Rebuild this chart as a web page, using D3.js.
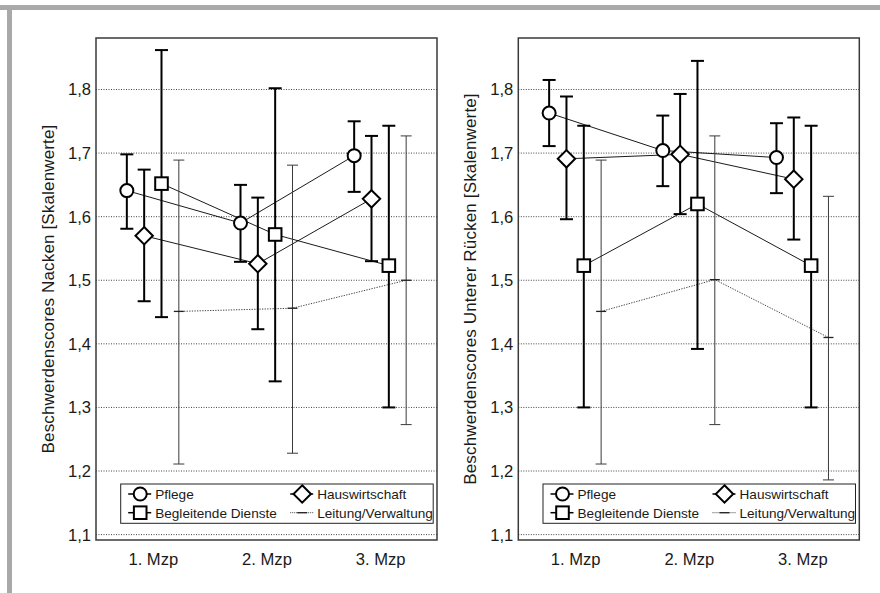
<!DOCTYPE html>
<html><head><meta charset="utf-8">
<script src="https://cdn.jsdelivr.net/npm/d3@7/dist/d3.min.js"></script>
<style>
html,body{margin:0;padding:0;background:#fff;}
svg{display:block;font-family:"Liberation Sans",Arial,sans-serif;}
</style></head>
<body>
<svg id="chart" width="880" height="593"></svg>
<script>
// ---- data ----
const categories = ["1. Mzp", "2. Mzp", "3. Mzp"];
const seriesNames = ["Pflege", "Hauswirtschaft", "Begleitende Dienste", "Leitung/Verwaltung"];
const yTicks = [1.1, 1.2, 1.3, 1.4, 1.5, 1.6, 1.7, 1.8];

// Panel 1: Nacken
const nackenPflegeMean = [1.641, 1.590, 1.696];
const nackenPflegeLo   = [1.581, 1.529, 1.639];
const nackenPflegeHi   = [1.698, 1.650, 1.750];
const nackenHauswMean  = [1.570, 1.526, 1.628];
const nackenHauswLo    = [1.467, 1.423, 1.530];
const nackenHauswHi    = [1.674, 1.630, 1.727];
const nackenBeglMean   = [1.652, 1.572, 1.523];
const nackenBeglLo     = [1.442, 1.341, 1.300];
const nackenBeglHi     = [1.862, 1.802, 1.743];
const nackenLeitMean   = [1.451, 1.456, 1.500];
const nackenLeitLo     = [1.211, 1.228, 1.273];
const nackenLeitHi     = [1.689, 1.681, 1.727];

// Panel 2: Unterer Rücken
const rueckenPflegeMean = [1.763, 1.704, 1.693];
const rueckenPflegeLo   = [1.711, 1.648, 1.637];
const rueckenPflegeHi   = [1.815, 1.759, 1.747];
const rueckenHauswMean  = [1.691, 1.698, 1.659];
const rueckenHauswLo    = [1.596, 1.604, 1.564];
const rueckenHauswHi    = [1.789, 1.793, 1.756];
const rueckenBeglMean   = [1.523, 1.620, 1.523];
const rueckenBeglLo     = [1.300, 1.392, 1.300];
const rueckenBeglHi     = [1.743, 1.845, 1.743];
const rueckenLeitMean   = [1.451, 1.501, 1.410];
const rueckenLeitLo     = [1.211, 1.273, 1.186];
const rueckenLeitHi     = [1.689, 1.727, 1.632];

const panels = [
  { left: 96, label: "Beschwerdenscores Nacken [Skalenwerte]",
    series: [
      {name: seriesNames[0], mean: nackenPflegeMean, lo: nackenPflegeLo, hi: nackenPflegeHi},
      {name: seriesNames[1], mean: nackenHauswMean, lo: nackenHauswLo, hi: nackenHauswHi},
      {name: seriesNames[2], mean: nackenBeglMean, lo: nackenBeglLo, hi: nackenBeglHi},
      {name: seriesNames[3], mean: nackenLeitMean, lo: nackenLeitLo, hi: nackenLeitHi}
    ]},
  { left: 518.3, label: "Beschwerdenscores Unterer Rücken [Skalenwerte]",
    series: [
      {name: seriesNames[0], mean: rueckenPflegeMean, lo: rueckenPflegeLo, hi: rueckenPflegeHi},
      {name: seriesNames[1], mean: rueckenHauswMean, lo: rueckenHauswLo, hi: rueckenHauswHi},
      {name: seriesNames[2], mean: rueckenBeglMean, lo: rueckenBeglLo, hi: rueckenBeglHi},
      {name: seriesNames[3], mean: rueckenLeitMean, lo: rueckenLeitLo, hi: rueckenLeitHi}
    ]}
];

// ---- drawing ----
const svg = d3.select("#chart");
// outer gray frame
svg.append("rect").attr("x", 0).attr("y", 5).attr("width", 880).attr("height", 5).attr("fill", "#a9a9a9");
svg.append("rect").attr("x", 7).attr("y", 5).attr("width", 5).attr("height", 588).attr("fill", "#a9a9a9");

const plotTop = 38, plotBottom = 540, pw = 341;
const y = d3.scaleLinear().domain([1.0915, 1.881]).range([plotBottom, plotTop]);

function drawMarker(g, type, cx, cy) {
  if (type === 0) {
    g.append("circle").attr("cx", cx).attr("cy", cy).attr("r", 6.5)
      .attr("fill", "#fff").attr("stroke", "#000").attr("stroke-width", 2);
  } else if (type === 1) {
    const s = 8.7;
    g.append("path").attr("d", `M${cx},${cy - s}L${cx + s},${cy}L${cx},${cy + s}L${cx - s},${cy}Z`)
      .attr("fill", "#fff").attr("stroke", "#000").attr("stroke-width", 2);
  } else if (type === 2) {
    const s = 6.3;
    g.append("rect").attr("x", cx - s).attr("y", cy - s).attr("width", 2 * s).attr("height", 2 * s)
      .attr("fill", "#fff").attr("stroke", "#000").attr("stroke-width", 2);
  } else {
    g.append("line").attr("x1", cx - 5).attr("x2", cx + 5).attr("y1", cy).attr("y2", cy)
      .attr("stroke", "#222").attr("stroke-width", 1.3);
  }
}

panels.forEach(p => {
  const g = svg.append("g");
  const x = d3.scaleBand().domain(categories).range([p.left, p.left + pw]);
  const off = d3.scalePoint().domain(seriesNames).range([-26, 26]);
  const xp = (cat, s) => x(cat) + x.bandwidth() / 2 + off(s);

  // grid
  g.selectAll(".grid").data(yTicks).enter().append("line")
    .attr("x1", p.left).attr("x2", p.left + pw)
    .attr("y1", d => y(d)).attr("y2", d => y(d))
    .attr("stroke", "#444").attr("stroke-width", 1).attr("stroke-dasharray", "1,1.5");

  // y tick labels
  g.selectAll(".yt").data(yTicks).enter().append("text")
    .attr("x", p.left - 5).attr("y", d => y(d)).attr("dy", "0.36em")
    .attr("text-anchor", "end").attr("font-size", 16.6).attr("fill", "#1a1a1a")
    .text(d => d3.format(".1f")(d).replace(".", ","));

  // x labels
  g.selectAll(".xt").data(categories).enter().append("text")
    .attr("x", d => x(d) + x.bandwidth() / 2 + 0.5).attr("y", 564.5)
    .attr("text-anchor", "middle").attr("font-size", 16.6).attr("fill", "#1a1a1a")
    .text(d => d);

  // y axis label
  g.append("text")
    .attr("transform", `translate(${p.left - 42},${(plotTop + plotBottom) / 2}) rotate(-90)`)
    .attr("text-anchor", "middle").attr("font-size", 17).attr("letter-spacing", 0.15).attr("fill", "#1a1a1a")
    .text(p.label);

  // connecting lines
  p.series.forEach((s, si) => {
    const line = d3.line().x((d, i) => xp(categories[i], s.name)).y(d => y(d));
    g.append("path").attr("d", line(s.mean)).attr("fill", "none")
      .attr("stroke", si === 3 ? "#444" : "#000")
      .attr("stroke-width", si === 3 ? 1 : 0.9)
      .attr("stroke-dasharray", si === 3 ? "1.3,1.3" : null);
  });

  // error bars
  p.series.forEach((s, si) => {
    const thick = si < 3;
    const cw = thick ? 6.5 : 5.5;
    const col = thick ? "#000" : "#3a3a3a";
    const sw = thick ? 2 : 1;
    s.mean.forEach((m, i) => {
      const cx = xp(categories[i], s.name);
      g.append("line").attr("x1", cx).attr("x2", cx).attr("y1", y(s.lo[i])).attr("y2", y(s.hi[i]))
        .attr("stroke", col).attr("stroke-width", sw);
      [s.lo[i], s.hi[i]].forEach(v => {
        g.append("line").attr("x1", cx - cw).attr("x2", cx + cw).attr("y1", y(v)).attr("y2", y(v))
          .attr("stroke", col).attr("stroke-width", sw);
      });
    });
  });

  // markers
  p.series.forEach((s, si) => {
    s.mean.forEach((m, i) => drawMarker(g, si, xp(categories[i], s.name), y(m)));
  });

  // frame
  g.append("rect").attr("x", p.left).attr("y", plotTop).attr("width", pw).attr("height", plotBottom - plotTop)
    .attr("fill", "none").attr("stroke", "#3a3a3a").attr("stroke-width", 1.5);

  // legend
  const lx = p.left + 24.7, ly = 484;
  const lg = g.append("g");
  lg.append("rect").attr("x", lx).attr("y", ly).attr("width", 312.5).attr("height", 39.3)
    .attr("fill", "#fff").attr("stroke", "#222").attr("stroke-width", 1);
  const cols = [lx + 19.5, lx + 181.5];
  const rows = [ly + 10, ly + 28.7];
  const pos = [[0, 0], [1, 0], [0, 1], [1, 1]];
  seriesNames.forEach((name, si) => {
    const cx = cols[pos[si][0]], cy = rows[pos[si][1]];
    lg.append("line").attr("x1", cx - 12).attr("x2", cx + 11).attr("y1", cy).attr("y2", cy)
      .attr("stroke", si === 3 ? "#444" : "#000").attr("stroke-width", si === 3 ? 1 : 1.5)
      .attr("stroke-dasharray", si === 3 ? "1,1" : null);
    drawMarker(lg, si, cx, cy);
    lg.append("text").attr("x", cx + 15).attr("y", cy).attr("dy", "0.36em")
      .attr("font-size", 13.6).attr("fill", "#1a1a1a").text(name);
  });
});
</script>
</body></html>
